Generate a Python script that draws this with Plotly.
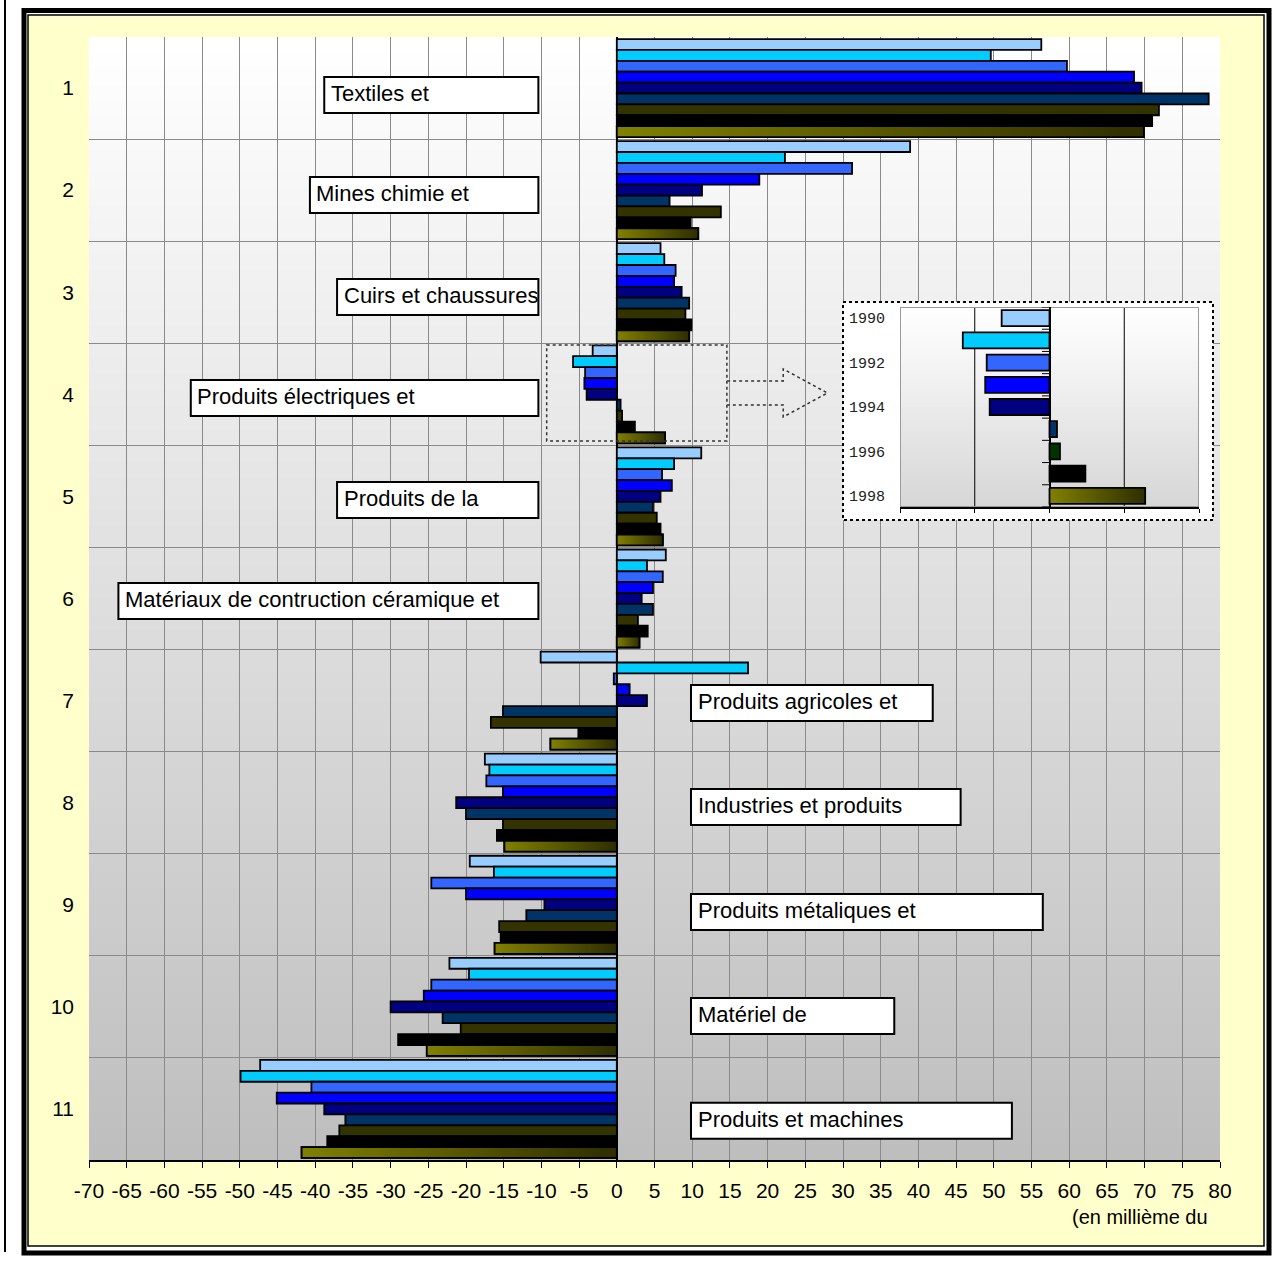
import plotly.graph_objects as go

# ---------------------------------------------------------------- data
years = ["1990", "1991", "1992", "1993", "1994", "1995", "1996", "1997", "1998"]
sector_ids = [1, 2, 3, 4, 5, 6, 7, 8, 9, 10, 11]
sector_labels = [
    "Textiles et", "Mines chimie et", "Cuirs et chaussures",
    "Produits électriques et", "Produits de la",
    "Matériaux de contruction céramique et",
    "Produits agricoles et", "Industries et produits",
    "Produits métaliques et", "Matériel de", "Produits et machines",
]

# balance by sector (en millième du PIB), one list per year
v1990 = [56.3, 38.9, 5.8, -3.2, 11.2, 6.5, -10.1, -17.5, -19.5, -22.2, -47.3]
v1991 = [49.6, 22.3, 6.3, -5.8, 7.6, 4.0, 17.4, -16.9, -16.3, -19.6, -49.9]
v1992 = [59.7, 31.2, 7.8, -4.2, 6.0, 6.1, -0.4, -17.3, -24.6, -24.6, -40.5]
v1993 = [68.6, 18.9, 7.6, -4.3, 7.3, 4.8, 1.7, -15.1, -20.0, -25.6, -45.1]
v1994 = [69.6, 11.3, 8.6, -4.0, 5.8, 3.3, 4.0, -21.3, -9.6, -30.0, -38.8]
v1995 = [78.5, 7.0, 9.6, 0.5, 4.8, 4.8, -15.1, -20.0, -12.0, -23.1, -36.0]
v1996 = [71.9, 13.8, 9.1, 0.7, 5.3, 2.8, -16.7, -15.1, -15.6, -20.7, -36.8]
v1997 = [71.0, 9.8, 9.9, 2.4, 5.8, 4.1, -5.1, -15.9, -15.4, -29.0, -38.4]
v1998 = [69.9, 10.8, 9.6, 6.4, 6.1, 3.0, -8.8, -14.9, -16.2, -25.2, -41.8]
series = [v1990, v1991, v1992, v1993, v1994, v1995, v1996, v1997, v1998]

x_ticks = list(range(-70, 85, 5))
zoom_sector = 4  # sector shown enlarged in the inset

# ---------------------------------------------------------------- styles
bar_colors = ["#99CCFF", "#00CCFF", "#3366FF", "#0000FF", "#000080",
              "#003366", "#333300", "#000000", "#808000"]
inset_colors = ["#99CCFF", "#00CCFF", "#3366FF", "#0000FF", "#000080",
                "#003366", "#003300", "#000000", "#808000"]
olive_scale = [[0, "#808000"], [1, "#2E2E00"]]
FONT = "Liberation Sans, Arial, sans-serif"
NARROW = "Liberation Sans Narrow, Arial Narrow, Liberation Sans, Arial, sans-serif"
MONO = "Liberation Mono, Courier New, monospace"
EDGE = 1.8

W, H = 1274, 1261
L, T, PW, PH = 89, 37, 1131, 1123


def fx(X):
    return (X - L) / PW


def fy(Y):
    return (T + PH - Y) / PH


n = len(years)
gap = 0.04
slot = (1 - gap) / n
offsets = [-(1 - gap) / 2 + i * slot for i in range(n)]

fig = go.Figure()

# main bars, one trace per year
for i in range(n):
    fig.add_trace(go.Bar(
        y=sector_ids, x=series[i], orientation="h", name=years[i],
        width=slot, offset=offsets[i],
        marker=dict(color=bar_colors[i], line=dict(color="black", width=EDGE)),
        showlegend=False,
    ))
# olive gradient fill over the last year's bars
for c, v in zip(sector_ids, series[-1]):
    y0 = c + offsets[-1]
    y1 = y0 + slot
    fig.add_trace(go.Scatter(
        x=[0, v, v, 0, 0], y=[y0, y0, y1, y1, y0], mode="lines",
        fill="toself", fillgradient=dict(type="horizontal", colorscale=olive_scale),
        line=dict(color="black", width=EDGE), hoverinfo="skip", showlegend=False,
    ))

# inset: enlarged view of one sector
k = zoom_sector - 1
inset_vals = [s[k] for s in series]
inset_pos = list(range(n))
fig.add_trace(go.Bar(
    y=inset_pos[:-1], x=inset_vals[:-1], orientation="h", width=0.72,
    marker=dict(color=inset_colors[:-1], line=dict(color="black", width=EDGE)),
    xaxis="x3", yaxis="y3", showlegend=False,
))
fig.add_trace(go.Scatter(
    x=[0, inset_vals[-1], inset_vals[-1], 0, 0],
    y=[n - 1 - 0.36, n - 1 - 0.36, n - 1 + 0.36, n - 1 + 0.36, n - 1 - 0.36],
    mode="lines", fill="toself",
    fillgradient=dict(type="horizontal", colorscale=olive_scale),
    line=dict(color="black", width=EDGE), xaxis="x3", yaxis="y3",
    hoverinfo="skip", showlegend=False,
))

shapes = []
# page frame
shapes.append(dict(type="line", xref="paper", yref="paper", x0=fx(5), x1=fx(5),
                   y0=fy(0), y1=fy(1252), line=dict(color="black", width=2), layer="below"))
shapes.append(dict(type="rect", xref="paper", yref="paper", x0=fx(28), x1=fx(1264),
                   y0=fy(1246), y1=fy(15), fillcolor="#FFFFCC",
                   line=dict(color="black", width=1.5), layer="below"))
shapes.append(dict(type="rect", xref="paper", yref="paper", x0=fx(24), x1=fx(1269),
                   y0=fy(1253), y1=fy(10.5), line=dict(color="black", width=5), layer="below"))

# plot area vertical gradient (white -> grey)
N = 140
for j in range(N):
    g = round(255 - (255 - 190) * j / (N - 1))
    shapes.append(dict(type="rect", xref="paper", yref="paper", x0=0, x1=1,
                       y0=max(0, 1 - (j + 1) / N - 0.002), y1=1 - j / N,
                       fillcolor=f"rgb({g},{g},{g})", line=dict(width=0), layer="below"))

# inset frame (own hidden axes, pixel-like units)
shapes.append(dict(type="rect", xref="x2", yref="y2", x0=843, x1=1213, y0=302, y1=520,
                   fillcolor="white", line=dict(color="black", width=2, dash="dot"),
                   layer="below"))

# inset plot background gradient, border and grid
M = 40
for j in range(M):
    g = round(255 - (255 - 215) * j / (M - 1))
    shapes.append(dict(type="rect", xref="x3", yref="y3", x0=-10, x1=10,
                       y0=-0.5 + j * 9 / M, y1=-0.5 + (j + 1) * 9 / M + 0.02,
                       fillcolor=f"rgb({g},{g},{g})", line=dict(width=0), layer="below"))
for gx in (-5, 5):
    shapes.append(dict(type="line", xref="x3", yref="y3", x0=gx, x1=gx, y0=-0.5, y1=8.5,
                       line=dict(color="black", width=1), layer="below"))
shapes.append(dict(type="rect", xref="x3", yref="y3", x0=-10, x1=10, y0=-0.5, y1=8.5,
                   line=dict(color="#9a9a9a", width=2), layer="below"))
# category ticks on the inset's zero line
for p in range(n + 1):
    shapes.append(dict(type="line", xref="x3", yref="y3", x0=-0.5, x1=0,
                       y0=p - 0.5, y1=p - 0.5, line=dict(color="black", width=1)))

# dotted selection around the zoomed sector and the block arrow
shapes.append(dict(type="rect", xref="x", yref="y", x0=-9.3, x1=14.6,
                   y0=zoom_sector - 0.483, y1=zoom_sector + 0.457,
                   line=dict(color="#333333", width=1.5, dash="dot"), layer="above"))
ax = [14.63, 22.07, 22.07, 27.93, 22.07, 22.07, 14.63]
ay = [3.869, 3.869, 3.752, 3.987, 4.222, 4.104, 4.104]
path = "M " + " L ".join(f"{a},{b}" for a, b in zip(ax, ay))
shapes.append(dict(type="path", xref="x", yref="y", path=path,
                   line=dict(color="#333333", width=1.5, dash="dot"), layer="above"))

# sector label boxes
box_left = [-38.8, -40.7, -37.1, -56.5, -37.1, -66.1, 9.84, 9.84, 9.84, 9.84, 9.84]
box_right = [-10.4, -10.4, -10.4, -10.4, -10.4, -10.4, 41.9, 45.6, 56.5, 36.8, 52.4]
box_top = [0.892, 1.871, 2.870, 3.859, 4.858, 5.848, 6.847, 7.865, 8.894, 9.912, 10.940]
box_h = 0.353
annotations = []
for lbl, x0, x1, yt in zip(sector_labels, box_left, box_right, box_top):
    shapes.append(dict(type="rect", xref="x", yref="y", x0=x0, x1=x1, y0=yt, y1=yt + box_h,
                       fillcolor="white", line=dict(color="black", width=2), layer="above"))
    annotations.append(dict(xref="x", yref="y", x=x0 + 0.6, y=yt + 0.166, text=lbl,
                            xanchor="left", yanchor="middle", showarrow=False,
                            font=dict(family=FONT, size=22, color="black")))

annotations.append(dict(xref="paper", yref="paper", x=fx(1070), y=fy(1217),
                        text="(en millième du", xanchor="left", yanchor="middle",
                        showarrow=False, font=dict(family=NARROW, size=20, color="black")))

fig.update_layout(
    width=W, height=H, autosize=False,
    margin=dict(l=L, r=W - L - PW, t=T, b=H - T - PH, pad=0),
    paper_bgcolor="white", plot_bgcolor="rgba(0,0,0,0)",
    barmode="overlay", showlegend=False,
    shapes=shapes, annotations=annotations,
    xaxis=dict(
        range=[-70, 80], tickvals=x_ticks, ticktext=[str(t) for t in x_ticks],
        showgrid=True, gridcolor="#8a8a8a", gridwidth=1,
        zeroline=True, zerolinecolor="black", zerolinewidth=1.5,
        showline=True, linecolor="black", linewidth=1.5,
        ticks="outside", ticklen=6, tickcolor="black", tickwidth=1,
        ticklabelstandoff=5,
        tickfont=dict(family=NARROW, size=21, color="black"),
        automargin=False, fixedrange=True,
    ),
    yaxis=dict(
        range=[11.5, 0.5], tickvals=sector_ids, ticktext=[str(s) for s in sector_ids],
        showgrid=False, zeroline=False, showline=False, ticks="",
        ticklabelstandoff=14,
        tickfont=dict(family=FONT, size=21, color="black"),
        minor=dict(tickvals=[0.5 + i for i in range(12)], showgrid=True,
                   gridcolor="#8a8a8a", gridwidth=1, ticks=""),
        automargin=False, fixedrange=True,
    ),
    xaxis2=dict(domain=[fx(838), fx(1218)], range=[838, 1218], anchor="y2",
                visible=False, fixedrange=True),
    yaxis2=dict(domain=[fy(525), fy(297)], range=[525, 297], anchor="x2",
                visible=False, fixedrange=True),
    xaxis3=dict(
        domain=[fx(900), fx(1199)], range=[-10, 10], anchor="y3",
        tickvals=[-10, -5, 0, 5, 10], showticklabels=False,
        ticks="outside", ticklen=4, tickcolor="black",
        showgrid=False, zeroline=True, zerolinecolor="black", zerolinewidth=1.5,
        showline=True, linecolor="black", linewidth=1.5, fixedrange=True,
    ),
    yaxis3=dict(
        domain=[fy(507), fy(307)], range=[8.5, -0.5], anchor="x3",
        tickvals=inset_pos[::2], ticktext=years[::2], ticks="",
        showgrid=False, zeroline=False, showline=False,
        ticklabelstandoff=14,
        tickfont=dict(family=MONO, size=15, color="#222222"),
        fixedrange=True,
    ),
)

fig.write_html("out.html")
